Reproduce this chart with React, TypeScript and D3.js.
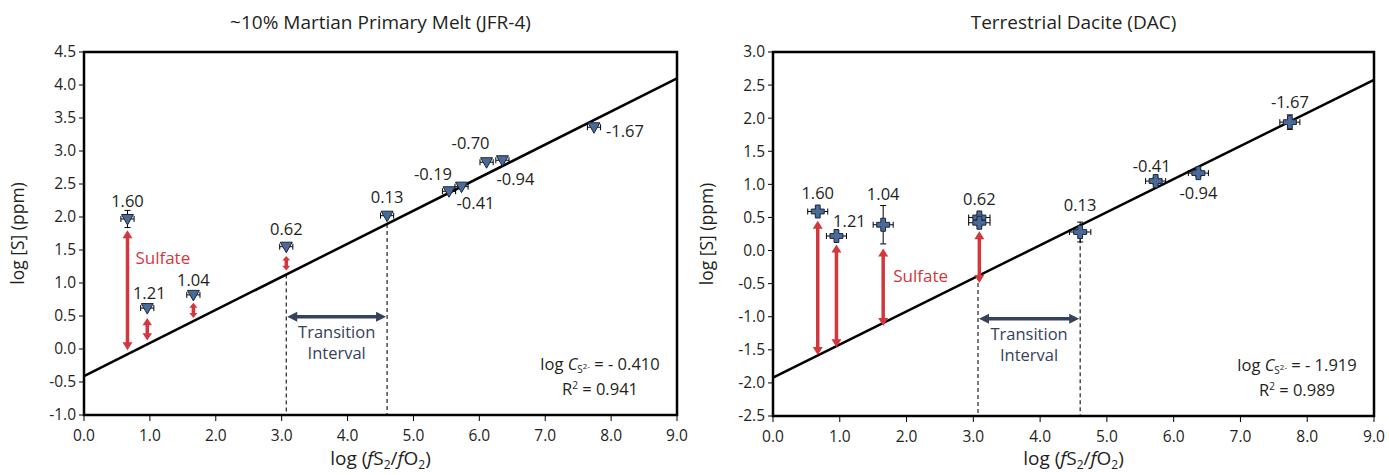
import React from "react";
import * as d3 from "d3";

// ---------- shared ----------
const xTicks = [0, 1, 2, 3, 4, 5, 6, 7, 8, 9];

// ---------- Panel A: JFR-4 ----------
const jfrTitle = "~10% Martian Primary Melt (JFR-4)";
const jfrYTicks = [-1.0, -0.5, 0.0, 0.5, 1.0, 1.5, 2.0, 2.5, 3.0, 3.5, 4.0, 4.5];
const jfrLabels = ["1.60", "1.21", "1.04", "0.62", "0.13", "-0.19", "-0.41", "-0.70", "-0.94", "-1.67"];
const jfrX = [0.66, 0.96, 1.66, 3.07, 4.6, 5.54, 5.73, 6.11, 6.35, 7.74];
const jfrY = [1.97, 0.62, 0.82, 1.55, 2.02, 2.39, 2.46, 2.83, 2.86, 3.36];
const jfrXErr = [0.1, 0.1, 0.1, 0.1, 0.1, 0.1, 0.1, 0.1, 0.1, 0.1];
const jfrYErr = [0.13, 0, 0, 0, 0, 0, 0, 0, 0, 0];
const jfrFitX = [0, 9];
const jfrFitY = [-0.41, 4.1];
const jfrSulfX = [0.66, 0.96, 1.66, 3.07];
const jfrSulfTop = [1.8, 0.47, 0.7, 1.41];
const jfrSulfBot = [-0.02, 0.13, 0.47, 1.19];
const jfrSulfText = [0.78, 1.38];
const jfrTransX = [3.07, 4.6];
const jfrTransY = 0.49;
const jfrLogC = "- 0.410";
const jfrR2 = "0.941";

// ---------- Panel B: DAC ----------
const dacTitle = "Terrestrial Dacite (DAC)";
const dacYTicks = [-2.5, -2.0, -1.5, -1.0, -0.5, 0.0, 0.5, 1.0, 1.5, 2.0, 2.5, 3.0];
const dacLabels = ["1.60", "1.21", "1.04", "0.62", "", "0.13", "-0.41", "-0.94", "-1.67"];
const dacX = [0.67, 0.95, 1.65, 3.09, 3.09, 4.6, 5.73, 6.37, 7.74];
const dacY = [0.59, 0.22, 0.39, 0.5, 0.42, 0.28, 1.05, 1.17, 1.94];
const dacXErr = [0.15, 0.15, 0.15, 0.16, 0.16, 0.16, 0.15, 0.15, 0.15];
const dacYErr = [0.04, 0.03, 0.29, 0.05, 0.05, 0.15, 0.05, 0.05, 0.11];
const dacFitX = [0, 9];
const dacFitY = [-1.919, 2.58];
const dacSulfX = [0.67, 0.95, 1.65, 3.09];
const dacSulfTop = [0.45, 0.09, 0.03, 0.29];
const dacSulfBot = [-1.58, -1.46, -1.14, -0.49];
const dacSulfText = [1.8, -0.38];
const dacTransX = [3.07, 4.6];
const dacTransY = -1.03;
const dacLogC = "- 1.919";
const dacR2 = "0.989";

// ---------- layout (pixels / styles) ----------
const FONT = "'Open Sans', 'Noto Sans', sans-serif";
const TEXT = "#231f20";
const RED = "#d2373d";
const NAVY = "#36415c";
const MARK = "#4a6a9a";

type Off = [number, number, string];
const jfrLabelOff: Off[] = [
  [0, -18, "middle"], [2, -15, "middle"], [0, -15, "middle"], [0, -17, "middle"], [0, -18, "middle"],
  [-16, -17, "middle"], [14, 17, "middle"], [-16, -19, "middle"], [13, 19, "middle"], [12, 4, "start"],
];
const dacLabelOff: Off[] = [
  [0, -18, "middle"], [13, -15, "middle"], [0, -31, "middle"], [0, -18, "middle"], [0, 0, "middle"],
  [0, -27, "middle"], [-4, -15, "middle"], [0, 20, "middle"], [0, -20, "middle"],
];

interface PanelProps {
  box: { left: number; right: number; top: number; bottom: number };
  title: string;
  yTicks: number[];
  labels: string[];
  xs: number[];
  ys: number[];
  xErr: number[];
  yErr: number[];
  fitX: number[];
  fitY: number[];
  sulfX: number[];
  sulfTop: number[];
  sulfBot: number[];
  sulfText: number[];
  transX: number[];
  transY: number;
  logC: string;
  r2: string;
  marker: "tri" | "plus";
  labelOff: Off[];
}

function Panel(p: PanelProps) {
  const { box } = p;
  const xS = d3.scaleLinear().domain([0, 9]).range([box.left, box.right]);
  const yS = d3
    .scaleLinear()
    .domain([p.yTicks[0], p.yTicks[p.yTicks.length - 1]])
    .range([box.bottom, box.top]);
  const line = d3
    .line<number>()
    .x((_, i) => xS(p.fitX[i]))
    .y((d) => yS(d));
  const fitAt = (x: number) =>
    p.fitY[0] + ((p.fitY[1] - p.fitY[0]) * (x - p.fitX[0])) / (p.fitX[1] - p.fitX[0]);
  const cx = (box.left + box.right) / 2;
  const cy = (box.top + box.bottom) / 2;

  const triPath = "M-6,-4.5 L6,-4.5 L0,6 Z";
  const plusPath = "M-2.4,-6.5 H2.4 V-2.4 H6.5 V2.4 H2.4 V6.5 H-2.4 V2.4 H-6.5 V-2.4 H-2.4 Z";

  const tx1 = xS(p.transX[0]);
  const tx2 = xS(p.transX[1]);
  const ty = yS(p.transY);

  return (
    <g fontFamily={FONT} fill={TEXT}>
      {/* title */}
      <text x={cx} y={29} textAnchor="middle" fontSize={19}>
        {p.title}
      </text>
      {/* y label */}
      <text
        transform={`translate(${box.left - 60},${cy}) rotate(-90)`}
        textAnchor="middle"
        fontSize={17.5}
      >
        log [S] (ppm)
      </text>
      {/* x label */}
      <text x={cx} y={465} textAnchor="middle" fontSize={19}>
        log (<tspan fontStyle="italic">f</tspan>S
        <tspan dy={4} fontSize={12}>2</tspan>
        <tspan dy={-4}>/</tspan>
        <tspan fontStyle="italic">f</tspan>O
        <tspan dy={4} fontSize={12}>2</tspan>
        <tspan dy={-4}>)</tspan>
      </text>

      {/* y ticks */}
      {p.yTicks.map((t) => (
        <g key={"y" + t}>
          <line x1={box.left - 5} x2={box.left} y1={yS(t)} y2={yS(t)} stroke="#000" strokeWidth={1} />
          <text x={box.left - 8} y={yS(t)} dy="0.35em" textAnchor="end" fontSize={15.5}>
            {t.toFixed(1)}
          </text>
        </g>
      ))}
      {/* x ticks */}
      {xTicks.map((t) => (
        <g key={"x" + t}>
          <line x1={xS(t)} x2={xS(t)} y1={box.bottom} y2={box.bottom + 6} stroke="#000" strokeWidth={1} />
          <text x={xS(t)} y={box.bottom + 26} textAnchor="middle" fontSize={15.5}>
            {t.toFixed(1)}
          </text>
        </g>
      ))}

      {/* dashed transition lines */}
      {p.transX.map((x, i) => (
        <line
          key={"d" + i}
          x1={xS(x)}
          x2={xS(x)}
          y1={yS(fitAt(x))}
          y2={box.bottom}
          stroke="#222"
          strokeWidth={1.2}
          strokeDasharray="4,3"
        />
      ))}

      {/* regression line */}
      <path d={line(p.fitY) || ""} fill="none" stroke="#000" strokeWidth={2.5} />

      {/* transition arrow */}
      <line x1={tx1 + 8} x2={tx2 - 8} y1={ty} y2={ty} stroke={NAVY} strokeWidth={3.5} />
      <path d={`M${tx1 + 1},${ty} L${tx1 + 11},${ty - 5} L${tx1 + 11},${ty + 5} Z`} fill={NAVY} />
      <path d={`M${tx2 - 1},${ty} L${tx2 - 11},${ty - 5} L${tx2 - 11},${ty + 5} Z`} fill={NAVY} />
      <text x={(tx1 + tx2) / 2} y={ty + 16} dy="0.35em" textAnchor="middle" fontSize={16.5} fill={NAVY}>
        Transition
      </text>
      <text x={(tx1 + tx2) / 2} y={ty + 37} dy="0.35em" textAnchor="middle" fontSize={16.5} fill={NAVY}>
        Interval
      </text>

      {/* sulfate arrows */}
      {p.sulfX.map((x, i) => {
        const px = xS(x);
        const y1 = yS(p.sulfTop[i]);
        const y2 = yS(p.sulfBot[i]);
        const len = y2 - y1;
        const hl = Math.min(8, len * 0.32);
        const hw = Math.min(5, 2.5 + len * 0.1);
        return (
          <g key={"s" + i}>
            <line x1={px} x2={px} y1={y1 + hl * 0.7} y2={y2 - hl * 0.7} stroke={RED} strokeWidth={3.5} />
            <path d={`M${px},${y1} L${px - hw},${y1 + hl} L${px + hw},${y1 + hl} Z`} fill={RED} />
            <path d={`M${px},${y2} L${px - hw},${y2 - hl} L${px + hw},${y2 - hl} Z`} fill={RED} />
          </g>
        );
      })}
      <text
        x={xS(p.sulfText[0])}
        y={yS(p.sulfText[1])}
        dy="0.35em"
        fontSize={17}
        fill={RED}
      >
        Sulfate
      </text>

      {/* error bars */}
      {p.xs.map((x, i) => {
        const px = xS(x);
        const py = yS(p.ys[i]);
        const xl = xS(x - p.xErr[i]);
        const xr = xS(x + p.xErr[i]);
        const yt = yS(p.ys[i] + p.yErr[i]);
        const yb = yS(p.ys[i] - p.yErr[i]);
        return (
          <g key={"e" + i} stroke="#000" strokeWidth={1}>
            <line x1={xl} x2={xr} y1={py} y2={py} />
            <line x1={xl} x2={xl} y1={py - 3} y2={py + 3} />
            <line x1={xr} x2={xr} y1={py - 3} y2={py + 3} />
            {p.yErr[i] > 0 && (
              <>
                <line x1={px} x2={px} y1={yt} y2={yb} />
                <line x1={px - 3} x2={px + 3} y1={yt} y2={yt} />
                <line x1={px - 3} x2={px + 3} y1={yb} y2={yb} />
              </>
            )}
          </g>
        );
      })}
      {/* markers */}
      {p.xs.map((x, i) => (
        <path
          key={"m" + i}
          d={p.marker === "tri" ? triPath : plusPath}
          transform={`translate(${xS(x)},${yS(p.ys[i])})`}
          fill={MARK}
          stroke="#1b2638"
          strokeWidth={1}
        />
      ))}
      {/* point labels */}
      {p.labels.map((l, i) =>
        l ? (
          <text
            key={"l" + i}
            x={xS(p.xs[i]) + p.labelOff[i][0]}
            y={yS(p.ys[i]) + p.labelOff[i][1]}
            dy="0.35em"
            textAnchor={p.labelOff[i][2]}
            fontSize={16.5}
          >
            {l}
          </text>
        ) : null
      )}

      {/* stats */}
      <text x={box.right - 77} y={box.bottom - 51} dy="0.35em" textAnchor="middle" fontSize={16.5}>
        log <tspan fontStyle="italic">C</tspan>
        <tspan dy={3} fontSize={10}>S</tspan>
        <tspan dy={-4} fontSize={8}>2-</tspan>
        <tspan dy={1}> = {p.logC}</tspan>
      </text>
      <text x={box.right - 77} y={box.bottom - 26} dy="0.35em" textAnchor="middle" fontSize={16.5}>
        R<tspan dy={-6} fontSize={10}>2</tspan>
        <tspan dy={6}> = {p.r2}</tspan>
      </text>

      {/* frame */}
      <rect
        x={box.left}
        y={box.top}
        width={box.right - box.left}
        height={box.bottom - box.top}
        fill="none"
        stroke="#000"
        strokeWidth={2.5}
      />
    </g>
  );
}

export default function App() {
  return (
    <div style={{ position: "absolute", left: 0, top: 0, width: 1389, height: 475, background: "#fff" }}>
      <svg width={1389} height={475} viewBox="0 0 1389 475">
        <rect width={1389} height={475} fill="#fff" />
        <Panel
          box={{ left: 84, right: 677, top: 52, bottom: 415 }}
          title={jfrTitle}
          yTicks={jfrYTicks}
          labels={jfrLabels}
          xs={jfrX}
          ys={jfrY}
          xErr={jfrXErr}
          yErr={jfrYErr}
          fitX={jfrFitX}
          fitY={jfrFitY}
          sulfX={jfrSulfX}
          sulfTop={jfrSulfTop}
          sulfBot={jfrSulfBot}
          sulfText={jfrSulfText}
          transX={jfrTransX}
          transY={jfrTransY}
          logC={jfrLogC}
          r2={jfrR2}
          marker="tri"
          labelOff={jfrLabelOff}
        />
        <Panel
          box={{ left: 773, right: 1374, top: 52, bottom: 416 }}
          title={dacTitle}
          yTicks={dacYTicks}
          labels={dacLabels}
          xs={dacX}
          ys={dacY}
          xErr={dacXErr}
          yErr={dacYErr}
          fitX={dacFitX}
          fitY={dacFitY}
          sulfX={dacSulfX}
          sulfTop={dacSulfTop}
          sulfBot={dacSulfBot}
          sulfText={dacSulfText}
          transX={dacTransX}
          transY={dacTransY}
          logC={dacLogC}
          r2={dacR2}
          marker="plus"
          labelOff={dacLabelOff}
        />
      </svg>
    </div>
  );
}
